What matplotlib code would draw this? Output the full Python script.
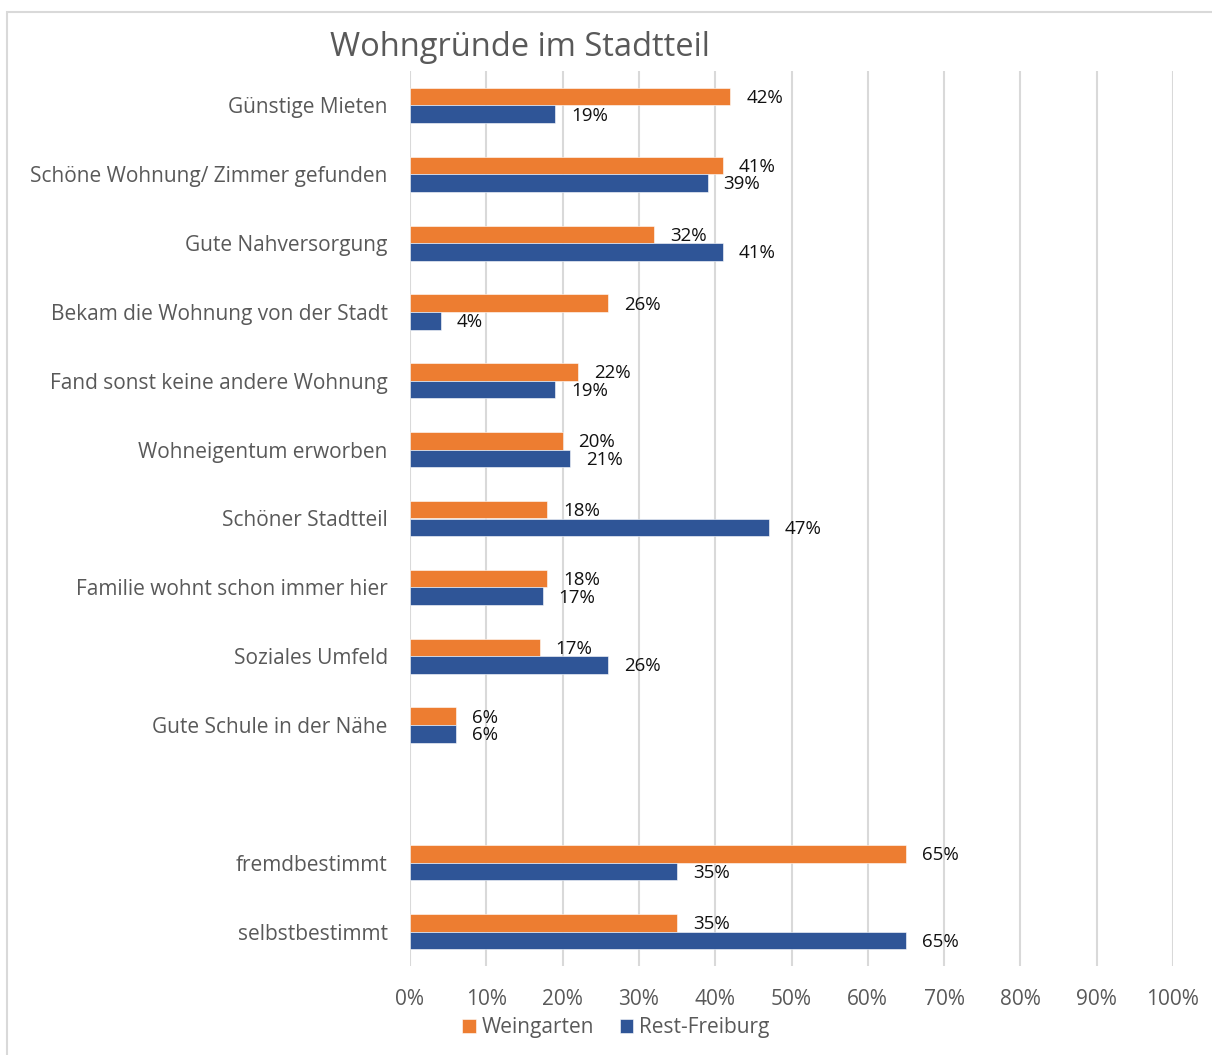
import numpy as np
import matplotlib
matplotlib.use("Agg")
import matplotlib.pyplot as plt
from matplotlib.patches import Rectangle

categories = ["Günstige Mieten",
              "Schöne Wohnung/ Zimmer gefunden",
              "Gute Nahversorgung",
              "Bekam die Wohnung von der Stadt",
              "Fand sonst keine andere Wohnung",
              "Wohneigentum erworben",
              "Schöner Stadtteil",
              "Familie wohnt schon immer hier",
              "Soziales Umfeld",
              "Gute Schule in der Nähe",
              "",
              "fremdbestimmt",
              "selbstbestimmt"]
weingarten = [42, 41, 32, 26, 22, 20, 18, 18, 17, 6, None, 65, 35]
rest_freiburg = [19, 39, 41, 4, 19, 21, 47, 17.4, 26, 6, None, 35, 65]
xticks = [0, 10, 20, 30, 40, 50, 60, 70, 80, 90, 100]

orange = "#ED7D31"
blue = "#2F5597"
gray = "#595959"
plt.rcParams['font.family'] = ['Open Sans', 'DejaVu Sans']

fig = plt.figure(figsize=(12.12, 10.55), dpi=100)
ax = fig.add_axes([410/1212, 1-966/1055, (1173-410)/1212, (966-71)/1055])

y = np.arange(len(categories))
h = 0.255
for i in range(len(categories)):
    if weingarten[i] is None:
        continue
    ax.barh(y[i] - h/2, weingarten[i], height=h, color=orange,
            edgecolor="white", linewidth=0.4, label="Weingarten" if i == 0 else None)
    ax.barh(y[i] + h/2, rest_freiburg[i], height=h, color=blue,
            edgecolor="white", linewidth=0.4, label="Rest-Freiburg" if i == 0 else None)
    ax.annotate("%.0f%%" % weingarten[i], (weingarten[i], y[i] - h/2),
                xytext=(11.5, -1), textcoords="offset points",
                va="center", ha="left", fontsize=13.5, color="#111111")
    ax.annotate("%.0f%%" % rest_freiburg[i], (rest_freiburg[i], y[i] + h/2),
                xytext=(11.5, -1), textcoords="offset points",
                va="center", ha="left", fontsize=13.5, color="#111111")

ax.set_ylim(len(categories) - 0.5, -0.5)
ax.set_xlim(0, 100)
ax.set_yticks(y)
ax.set_yticklabels(categories, fontsize=15, color=gray)
ax.set_xticks(xticks)
ax.set_xticklabels(["%d%%" % t for t in xticks], fontsize=15, color=gray)
ax.tick_params(axis="y", length=0, pad=16)
ax.tick_params(axis="x", length=0, pad=16.5)
ax.grid(axis="x", color="#d9d9d9", linewidth=1.5)
ax.set_axisbelow(True)
for s in ax.spines.values():
    s.set_visible(False)

fig.text(520/1212, 1-47/1055, "Wohngründe im Stadtteil", fontsize=23.5,
         color=gray, ha="center", va="center")

fig.legend(loc="center", bbox_to_anchor=(616/1212, 1-1028/1055), ncol=2,
           frameon=False, fontsize=15, labelcolor=gray,
           handlelength=0.65, handleheight=0.65, handletextpad=0.3, columnspacing=1.2)

fig.patches.append(Rectangle((7/1212, -0.02), 1.1, 1.02 - 12/1055, transform=fig.transFigure,
                             fill=False, edgecolor="#d9d9d9", linewidth=1.5))

fig.savefig("out.png", dpi=100)
